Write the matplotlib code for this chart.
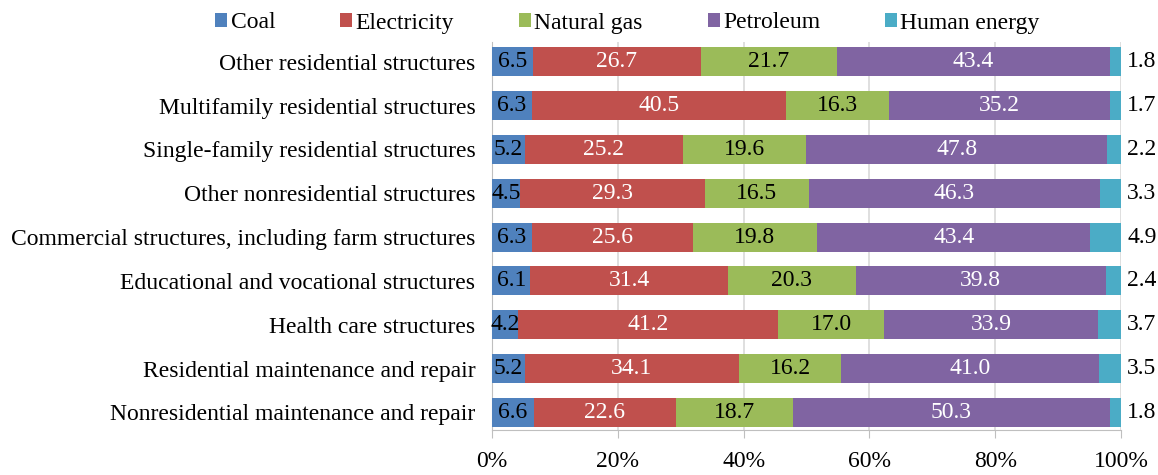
import matplotlib
matplotlib.use("Agg")
import matplotlib.pyplot as plt
import numpy as np
from matplotlib.patches import Patch
from matplotlib.font_manager import FontProperties

plt.rcParams['font.family'] = ['Liberation Serif', 'DejaVu Serif']

categories = [
    "Other residential structures",
    "Multifamily residential structures",
    "Single-family residential structures",
    "Other nonresidential structures",
    "Commercial structures, including farm structures",
    "Educational and vocational structures",
    "Health care structures",
    "Residential maintenance and repair",
    "Nonresidential maintenance and repair",
]
series_names = ["Coal", "Electricity", "Natural gas", "Petroleum", "Human energy"]
coal = [6.5, 6.3, 5.2, 4.5, 6.3, 6.1, 4.2, 5.2, 6.6]
electricity = [26.7, 40.5, 25.2, 29.3, 25.6, 31.4, 41.2, 34.1, 22.6]
natural_gas = [21.7, 16.3, 19.6, 16.5, 19.8, 20.3, 17.0, 16.2, 18.7]
petroleum = [43.4, 35.2, 47.8, 46.3, 43.4, 39.8, 33.9, 41.0, 50.3]
human_energy = [1.8, 1.7, 2.2, 3.3, 4.9, 2.4, 3.7, 3.5, 1.8]
xtick_labels = ["0%", "20%", "40%", "60%", "80%", "100%"]

colors = ["#4F81BD", "#C0504D", "#9BBB59", "#8064A2", "#4BACC6"]
text_colors = ["black", "white", "black", "white", None]

data = np.array([coal, electricity, natural_gas, petroleum, human_energy])
totals = data.sum(axis=0)
frac = data / totals * 100

fig = plt.figure(figsize=(11.58, 4.75), dpi=100)
ax = fig.add_axes([0.4249, 0.0947, 0.968 - 0.4249, 0.9116 - 0.0947])

y = np.arange(len(categories))
left = np.zeros(len(categories))
fs = 17
for i in range(5):
    ax.barh(y, frac[i], left=left, height=0.66, color=colors[i], zorder=3)
    for j in range(len(categories)):
        val = data[i][j]
        if i < 4:
            ax.text(left[j] + frac[i][j] / 2, y[j], f"{val:.1f}", ha='center', va='center',
                    color=text_colors[i], fontsize=fs, zorder=4)
        else:
            ax.text(101.0, y[j], f"{val:.1f}", ha='left', va='center',
                    color='black', fontsize=fs, zorder=4, clip_on=False)
    left += frac[i]

ax.set_xlim(0, 100)
ax.set_ylim(8.4, -0.45)
ax.set_yticks(y)
ax.set_yticklabels(categories, fontsize=fs)
ax.set_xticks([0, 20, 40, 60, 80, 100])
ax.set_xticklabels(xtick_labels, fontsize=fs)
ax.tick_params(axis='y', length=0, pad=12)
ax.tick_params(axis='x', length=6, color='#BFBFBF', pad=9)
ax.grid(axis='x', color='#D9D9D9', linewidth=1.2, zorder=0)
for s in ['top', 'right']:
    ax.spines[s].set_visible(False)
ax.spines['left'].set_color('#BFBFBF')
ax.spines['bottom'].set_color('#BFBFBF')

handles = [Patch(facecolor=c, edgecolor='none') for c in colors]
fig.legend(handles, series_names, loc='center', bbox_to_anchor=(0.542, 1 - 23 / 475),
           ncol=5, frameon=False, prop=FontProperties(family=['Liberation Serif'], size=fs),
           handlelength=0.5, handleheight=0.5,
           handletextpad=0.15, columnspacing=2.75)

fig.savefig("out.png", dpi=100)
